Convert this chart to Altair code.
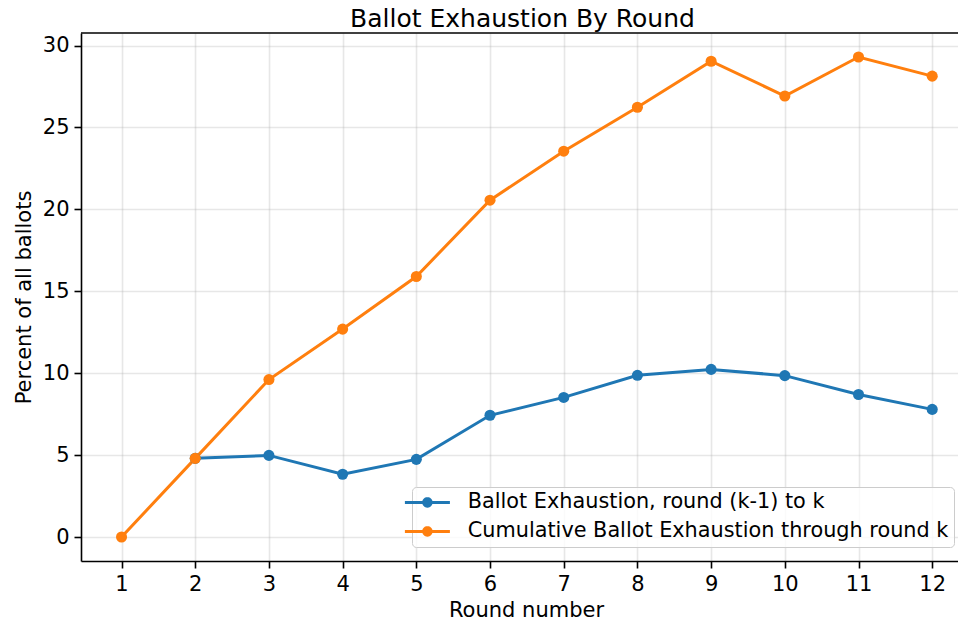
import math
import altair as alt
import pandas as pd

rounds = list(range(1, 13))
per_round_rounds = list(range(2, 13))
per_round = [4.80, 4.98, 3.83, 4.74, 7.43, 8.52, 9.87, 10.23, 9.85, 8.70, 7.79]
cumulative = [0.0, 4.80, 9.61, 12.69, 15.90, 20.56, 23.55, 26.23, 29.04, 26.92, 29.30, 28.13]

s1 = "Ballot Exhaustion, round (k-1) to k"
s2 = "Cumulative Ballot Exhaustion through round k"
series_names = [s1, s2]
series_colors = ["#1f77b4", "#ff7f0e"]

df = pd.concat([
    pd.DataFrame({"round": per_round_rounds, "value": per_round, "series": s1}),
    pd.DataFrame({"round": rounds, "value": cumulative, "series": s2}),
], ignore_index=True)

W, H = 877, 528
FONT = "DejaVu Sans"

xenc = alt.X("round:Q",
             scale=alt.Scale(domain=[0.45, 12.35], nice=False, zero=False),
             axis=alt.Axis(values=rounds, format="d", title="Round number",
                           labelPadding=5, titleBaseline="alphabetic", titleY=55, titleX=445))
yenc = alt.Y("value:Q",
             scale=alt.Scale(domain=[-1.465, 30.765], nice=False, zero=False),
             axis=alt.Axis(values=[0, 5, 10, 15, 20, 25, 30], title="Percent of all ballots",
                           labelPadding=5, titleBaseline="alphabetic", titleX=-51))

# legend handle: a short line with a dot on it (unit coords)
rect = "M-3,-0.2L3,-0.2L3,0.2L-3,0.2Z"
n = 24
r = 0.7
circ = "M" + "L".join(f"{r*math.cos(2*math.pi*i/n):.3f},{r*math.sin(2*math.pi*i/n):.3f}" for i in range(n)) + "Z"
legend_path = rect + circ

scale = alt.Scale(domain=series_names, range=series_colors)

line_layers = [
    alt.Chart(df).transform_filter(alt.datum.series == name)
    .mark_line(strokeWidth=3, color=col)
    .encode(x=xenc, y=yenc, order="round:Q")
    for name, col in zip(series_names, series_colors)
]

points = alt.Chart(df).mark_circle(size=123, opacity=1).encode(
    x=xenc, y=yenc,
    color=alt.Color("series:N", scale=scale,
                    legend=alt.Legend(orient="none", legendX=331, legendY=454, title=None,
                                      symbolType=legend_path, symbolSize=225, symbolStrokeWidth=0,
                                      symbolOpacity=1, labelFontSize=20.8, labelFont=FONT,
                                      labelColor="black", labelLimit=700, padding=5,
                                      rowPadding=7, labelOffset=30,
                                      fillColor="rgba(255,255,255,0.8)", strokeColor="#cccccc",
                                      cornerRadius=4)),
)

top_spine = alt.Chart(pd.DataFrame({"a": [0]})).mark_rule(color="black", strokeWidth=1.6).encode(
    x=alt.value(0), x2=alt.value(W), y=alt.value(0)
)

chart = alt.layer(*line_layers, points, top_spine).properties(
    width=W, height=H,
    title=alt.TitleParams("Ballot Exhaustion By Round", font=FONT, fontSize=25,
                          fontWeight="normal", color="black",
                          offset=0, dx=3),
    autosize=alt.AutoSizeParams(type="none"),
    padding={"left": 73, "top": 25, "right": 0, "bottom": 57},
).configure_view(stroke=None).configure_axis(
    labelFont=FONT, labelFontSize=21, labelColor="black",
    titleFont=FONT, titleFontSize=21, titleFontWeight="normal", titleColor="black",
    domainColor="black", domainWidth=1.6, tickColor="black", tickWidth=1.6, tickSize=7,
    gridColor="#b0b0b0", gridOpacity=0.3, gridWidth=1.6,
)

chart.save("out.html", embed_options={"renderer": "svg", "actions": False})
